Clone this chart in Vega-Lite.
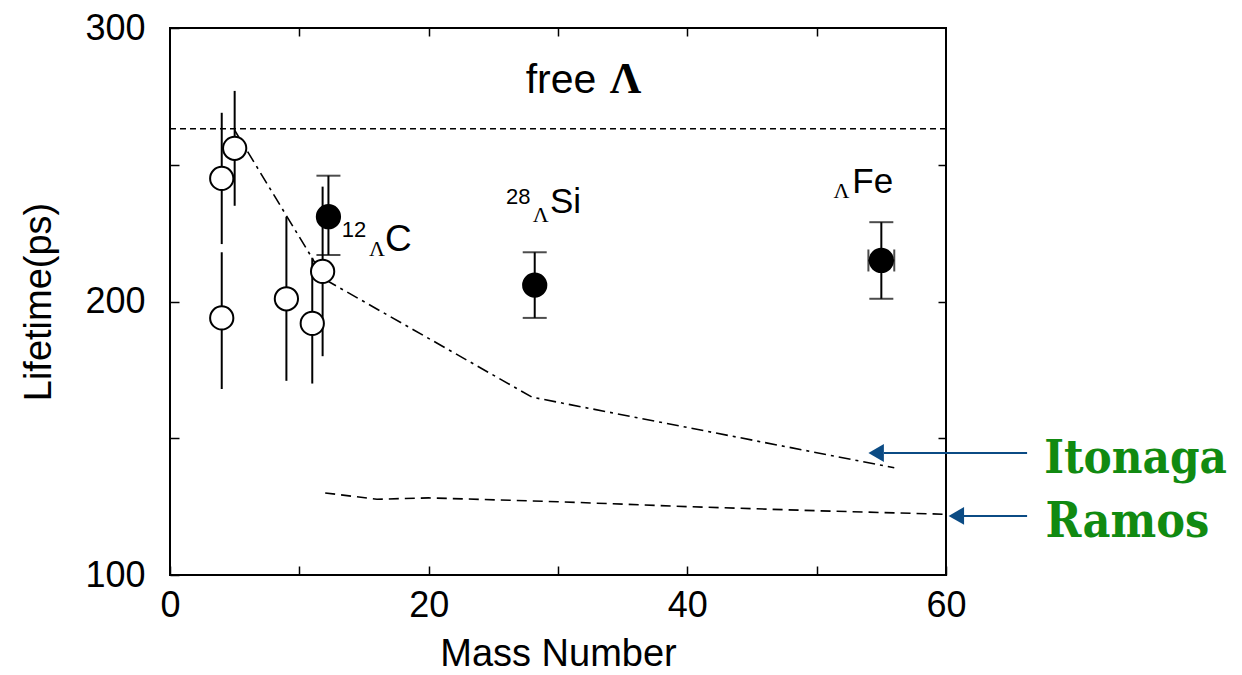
{
  "$schema": "https://vega.github.io/schema/vega-lite/v6.json",
  "width": 776,
  "height": 547,
  "autosize": "none",
  "padding": {"left": 170, "top": 28, "right": 296, "bottom": 100},
  "background": "white",
  "config": {
    "view": {"stroke": "black", "strokeWidth": 2},
    "axis": {
      "labelFont": "Liberation Sans",
      "titleFont": "Liberation Sans",
      "labelFontSize": 36,
      "titleFontSize": 38,
      "labelColor": "black",
      "titleColor": "black",
      "titleFontWeight": "normal",
      "domain": false,
      "grid": false,
      "tickColor": "black",
      "tickWidth": 1.5
    }
  },
  "datasets": {
    "points": [
      {"A": 4, "tau": 245, "lo": 221, "hi": 269, "type": "open"},
      {"A": 4, "tau": 194, "lo": 168, "hi": 218, "type": "open"},
      {"A": 5, "tau": 256, "lo": 235, "hi": 277, "type": "open"},
      {"A": 9, "tau": 201, "lo": 171, "hi": 231, "type": "open"},
      {"A": 11, "tau": 192, "lo": 170, "hi": 216, "type": "open"},
      {"A": 11.8, "tau": 211, "lo": 180, "hi": 242, "type": "open"},
      {"A": 12.25, "tau": 231, "lo": 217, "hi": 246, "type": "filled"},
      {"A": 28.2, "tau": 206, "lo": 194, "hi": 218, "type": "filled"},
      {"A": 55, "tau": 215, "lo": 201, "hi": 229, "type": "filled"}
    ],
    "fexerr": [
      {"A": 55, "tau": 215, "xlo": 54, "xhi": 56}
    ],
    "itonaga": [
      {"A": 5, "tau": 262.6},
      {"A": 12, "tau": 208},
      {"A": 28, "tau": 165},
      {"A": 56, "tau": 139.2}
    ],
    "ramos": [
      {"A": 12, "tau": 130},
      {"A": 16, "tau": 127.7},
      {"A": 20, "tau": 128.2},
      {"A": 30, "tau": 126.8},
      {"A": 40, "tau": 125},
      {"A": 50, "tau": 123.5},
      {"A": 60, "tau": 122.2}
    ]
  },
  "layer": [
    {
      "data": {"name": "itonaga"},
      "mark": {"type": "line", "color": "black", "strokeWidth": 1.6, "strokeDash": [12, 5, 3, 5]},
      "encoding": {
        "x": {"field": "A", "type": "quantitative",
          "scale": {"domain": [0, 60], "nice": false, "zero": false},
          "axis": {"orient": "bottom", "values": [0, 10, 20, 30, 40, 50, 60],
            "labelExpr": "datum.value % 20 == 0 ? datum.label : ''",
            "tickSize": -9, "labelPadding": 22, "labelFlush": false,
            "title": "Mass Number", "titlePadding": 12}},
        "y": {"field": "tau", "type": "quantitative",
          "scale": {"domain": [100, 300], "nice": false, "zero": false},
          "axis": {"orient": "left", "values": [100, 150, 200, 250, 300],
            "labelExpr": "datum.value % 100 == 0 ? datum.label : ''",
            "tickSize": -9, "labelPadding": 34, "labelFlush": false,
            "title": "Lifetime(ps)", "titlePadding": 26}}
      }
    },
    {
      "data": {"name": "ramos"},
      "mark": {"type": "line", "color": "black", "strokeWidth": 1.6, "strokeDash": [10, 6]},
      "encoding": {
        "x": {"field": "A", "type": "quantitative",
          "axis": {"orient": "top", "values": [10, 20, 30, 40, 50],
            "tickSize": -8, "labels": false, "title": null}},
        "y": {"field": "tau", "type": "quantitative",
          "axis": {"orient": "right", "values": [150, 200, 250],
            "tickSize": -8, "labels": false, "title": null}}
      }
    },
    {
      "data": {"values": [{}]},
      "mark": {"type": "rule", "color": "black", "strokeWidth": 1.5, "strokeDash": [6, 4]},
      "encoding": {
        "y": {"datum": 263.2, "type": "quantitative", "axis": null}
      }
    },
    {
      "data": {"name": "points"},
      "mark": {"type": "rule", "color": "black", "strokeWidth": 2},
      "encoding": {
        "x": {"field": "A", "type": "quantitative", "axis": null},
        "y": {"field": "lo", "type": "quantitative", "axis": null},
        "y2": {"field": "hi"}
      }
    },
    {
      "data": {"name": "points"},
      "transform": [{"filter": "datum.type == 'filled'"}],
      "mark": {"type": "tick", "orient": "horizontal", "color": "black", "size": 24, "thickness": 2},
      "encoding": {
        "x": {"field": "A", "type": "quantitative", "axis": null},
        "y": {"field": "lo", "type": "quantitative", "axis": null}
      }
    },
    {
      "data": {"name": "points"},
      "transform": [{"filter": "datum.type == 'filled'"}],
      "mark": {"type": "tick", "orient": "horizontal", "color": "black", "size": 24, "thickness": 2},
      "encoding": {
        "x": {"field": "A", "type": "quantitative", "axis": null},
        "y": {"field": "hi", "type": "quantitative", "axis": null}
      }
    },
    {
      "data": {"name": "fexerr"},
      "mark": {"type": "rule", "color": "black", "strokeWidth": 2},
      "encoding": {
        "x": {"field": "xlo", "type": "quantitative", "axis": null},
        "x2": {"field": "xhi"},
        "y": {"field": "tau", "type": "quantitative", "axis": null}
      }
    },
    {
      "data": {"name": "fexerr"},
      "mark": {"type": "tick", "orient": "vertical", "color": "black", "size": 22, "thickness": 2},
      "encoding": {
        "x": {"field": "xlo", "type": "quantitative", "axis": null},
        "y": {"field": "tau", "type": "quantitative", "axis": null}
      }
    },
    {
      "data": {"name": "fexerr"},
      "mark": {"type": "tick", "orient": "vertical", "color": "black", "size": 22, "thickness": 2},
      "encoding": {
        "x": {"field": "xhi", "type": "quantitative", "axis": null},
        "y": {"field": "tau", "type": "quantitative", "axis": null}
      }
    },
    {
      "data": {"name": "points"},
      "mark": {"type": "point", "shape": "circle", "size": 540, "stroke": "black", "strokeWidth": 2, "opacity": 1, "filled": false},
      "encoding": {
        "x": {"field": "A", "type": "quantitative", "axis": null},
        "y": {"field": "tau", "type": "quantitative", "axis": null},
        "fill": {"field": "type", "type": "nominal",
          "scale": {"domain": ["open", "filled"], "range": ["white", "black"]},
          "legend": null}
      }
    },
    {
      "data": {"values": [{}]},
      "mark": {"type": "text", "text": "free", "font": "Liberation Sans", "fontSize": 41, "align": "left", "baseline": "alphabetic", "color": "black"},
      "encoding": {"x": {"datum": 27.5, "type": "quantitative", "axis": null}, "y": {"datum": 276.4, "type": "quantitative", "axis": null}}
    },
    {
      "data": {"values": [{}]},
      "mark": {"type": "text", "text": "Λ", "font": "Liberation Serif", "fontWeight": "bold", "fontSize": 44, "align": "left", "baseline": "alphabetic", "color": "black"},
      "encoding": {"x": {"datum": 34.0, "type": "quantitative", "axis": null}, "y": {"datum": 276.4, "type": "quantitative", "axis": null}}
    },
    {
      "data": {"values": [{}]},
      "mark": {"type": "text", "text": "12", "font": "Liberation Sans", "fontSize": 22, "align": "left", "baseline": "alphabetic", "color": "black"},
      "encoding": {"x": {"datum": 13.28, "type": "quantitative", "axis": null}, "y": {"datum": 223.6, "type": "quantitative", "axis": null}}
    },
    {
      "data": {"values": [{}]},
      "mark": {"type": "text", "text": "Λ", "font": "Liberation Serif", "fontSize": 22, "align": "left", "baseline": "alphabetic", "color": "black"},
      "encoding": {"x": {"datum": 15.39, "type": "quantitative", "axis": null}, "y": {"datum": 216.6, "type": "quantitative", "axis": null}}
    },
    {
      "data": {"values": [{}]},
      "mark": {"type": "text", "text": "C", "font": "Liberation Sans", "fontSize": 37, "align": "left", "baseline": "alphabetic", "color": "black"},
      "encoding": {"x": {"datum": 16.62, "type": "quantitative", "axis": null}, "y": {"datum": 218.6, "type": "quantitative", "axis": null}}
    },
    {
      "data": {"values": [{}]},
      "mark": {"type": "text", "text": "28", "font": "Liberation Sans", "fontSize": 22, "align": "left", "baseline": "alphabetic", "color": "black"},
      "encoding": {"x": {"datum": 25.98, "type": "quantitative", "axis": null}, "y": {"datum": 235.6, "type": "quantitative", "axis": null}}
    },
    {
      "data": {"values": [{}]},
      "mark": {"type": "text", "text": "Λ", "font": "Liberation Serif", "fontSize": 22, "align": "left", "baseline": "alphabetic", "color": "black"},
      "encoding": {"x": {"datum": 28.04, "type": "quantitative", "axis": null}, "y": {"datum": 229.2, "type": "quantitative", "axis": null}}
    },
    {
      "data": {"values": [{}]},
      "mark": {"type": "text", "text": "Si", "font": "Liberation Sans", "fontSize": 35, "align": "left", "baseline": "alphabetic", "color": "black"},
      "encoding": {"x": {"datum": 29.38, "type": "quantitative", "axis": null}, "y": {"datum": 232.2, "type": "quantitative", "axis": null}}
    },
    {
      "data": {"values": [{}]},
      "mark": {"type": "text", "text": "Λ", "font": "Liberation Serif", "fontSize": 22, "align": "left", "baseline": "alphabetic", "color": "black"},
      "encoding": {"x": {"datum": 51.3, "type": "quantitative", "axis": null}, "y": {"datum": 237.7, "type": "quantitative", "axis": null}}
    },
    {
      "data": {"values": [{}]},
      "mark": {"type": "text", "text": "Fe", "font": "Liberation Sans", "fontSize": 35, "align": "left", "baseline": "alphabetic", "color": "black"},
      "encoding": {"x": {"datum": 52.76, "type": "quantitative", "axis": null}, "y": {"datum": 239.6, "type": "quantitative", "axis": null}}
    },
    {
      "data": {"values": [{}]},
      "mark": {"type": "rule", "color": "#0b4b84", "strokeWidth": 2},
      "encoding": {"x": {"datum": 55.2, "type": "quantitative", "axis": null}, "x2": {"datum": 66.27}, "y": {"datum": 144.6, "type": "quantitative", "axis": null}}
    },
    {
      "data": {"values": [{}]},
      "mark": {"type": "point", "shape": "triangle-left", "filled": true, "color": "#0b4b84", "size": 320, "opacity": 1},
      "encoding": {"x": {"datum": 54.6, "type": "quantitative", "axis": null}, "y": {"datum": 144.6, "type": "quantitative", "axis": null}}
    },
    {
      "data": {"values": [{}]},
      "mark": {"type": "rule", "color": "#0b4b84", "strokeWidth": 2},
      "encoding": {"x": {"datum": 61.3, "type": "quantitative", "axis": null}, "x2": {"datum": 66.27}, "y": {"datum": 121.6, "type": "quantitative", "axis": null}}
    },
    {
      "data": {"values": [{}]},
      "mark": {"type": "point", "shape": "triangle-left", "filled": true, "color": "#0b4b84", "size": 320, "opacity": 1},
      "encoding": {"x": {"datum": 60.8, "type": "quantitative", "axis": null}, "y": {"datum": 121.6, "type": "quantitative", "axis": null}}
    },
    {
      "data": {"values": [{}]},
      "mark": {"type": "text", "text": "Itonaga", "font": "DejaVu Serif Condensed", "fontWeight": "bold", "fontSize": 47, "align": "left", "baseline": "alphabetic", "color": "#118a11"},
      "encoding": {"x": {"datum": 67.6, "type": "quantitative", "axis": null}, "y": {"datum": 137.3, "type": "quantitative", "axis": null}}
    },
    {
      "data": {"values": [{}]},
      "mark": {"type": "text", "text": "Ramos", "font": "DejaVu Serif Condensed", "fontWeight": "bold", "fontSize": 48, "align": "left", "baseline": "alphabetic", "color": "#118a11"},
      "encoding": {"x": {"datum": 67.7, "type": "quantitative", "axis": null}, "y": {"datum": 113.9, "type": "quantitative", "axis": null}}
    }
  ],
  "resolve": {"axis": {"x": "independent", "y": "independent"}}
}
